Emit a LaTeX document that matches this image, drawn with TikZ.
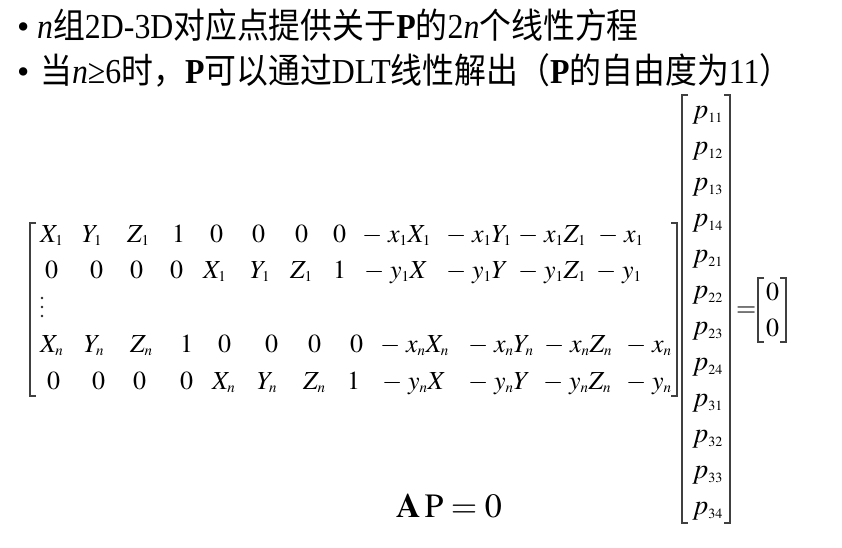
\documentclass[tikz,border=0pt]{standalone}
\usepackage{mathptmx}
\usepackage{fontspec}
\setmainfont{Liberation Serif}
\newfontfamily\cjk{Noto Sans CJK SC}
\DeclareMathSizes{26}{26}{15}{11}
\DeclareMathSizes{28}{28}{14}{10}
\tikzset{
  bigtxt/.style={anchor=base west, inner sep=0pt, font=\fontsize{35}{35}\selectfont},
  ent/.style={anchor=base west, inner sep=0pt, font=\fontsize{26}{26}\selectfont},
  pent/.style={anchor=base west, inner sep=0pt, font=\fontsize{28}{28}\selectfont},
  brk/.style={line width=1.3pt, draw=black!75},
  eqn/.style={anchor=base west, inner sep=0pt, font=\fontsize{34}{34}\selectfont}
}
\begin{document}
\begin{tikzpicture}[x=1pt,y=-1pt]
\useasboundingbox (0,0) rectangle (842,547);
\fill[white] (0,0) rectangle (842,547);
% bullets and text
\node[bigtxt] (b1) at (17,38) {\textbullet};
\node[bigtxt] (t1) at (37,38) {\scalebox{0.91}[1]{\textit{n}{\cjk 组}2D-3D{\cjk 对应点提供关于}\textbf{P}{\cjk 的}2\textit{n}{\cjk 个线性方程}}};
\node[bigtxt] (b2) at (17,83) {\textbullet};
\node[bigtxt] (t2) at (40,83) {\scalebox{0.91}[1]{{\cjk 当}\textit{n}≥6{\cjk 时，}\textbf{P}{\cjk 可以通过}DLT{\cjk 线性解出（}\textbf{P}{\cjk 的自由度为}11{\cjk ）}}};
% matrix rows
\foreach \x/\t [count=\i] in {40/X_1, 82/Y_1, 127/Z_1, 172/1, 210/0, 252/0, 295/0, 333/0, 362/-\;x_1X_1, 446/-\;x_1Y_1, 518/-\;x_1Z_1, 598/-\;x_1}
  \node[ent] (ra\i) at (\x,242) {$\t$};
\foreach \x/\t [count=\i] in {45/0, 90/0, 130/0, 170/0, 203/X_1, 250/Y_1, 290/Z_1, 333/1, 364/-\;y_1X, 446/-\;y_1Y, 518/-\;y_1Z_1, 596/-\;y_1}
  \node[ent] (rb\i) at (\x,278) {$\t$};
\foreach \y in {298,307,316} \fill[black!85] (42,\y) circle (1.4);
\foreach \x/\t [count=\i] in {40/X_n, 84/Y_n, 130/Z_n, 180/1, 218/0, 265/0, 308/0, 350/0, 380/-\;x_nX_n, 468/-\;x_nY_n, 544/-\;x_nZ_n, 626/-\;x_n}
  \node[ent] (rc\i) at (\x,352) {$\t$};
\foreach \x/\t [count=\i] in {47/0, 92/0, 133/0, 180/0, 212/X_n, 257/Y_n, 303/Z_n, 347/1, 382/-\;y_nX, 468/-\;y_nY, 543/-\;y_nZ_n, 626/-\;y_n}
  \node[ent] (rd\i) at (\x,389) {$\t$};
% matrix brackets
\draw[brk] (36,223) -- (30,223) -- (30,396) -- (36,396);
\draw[brk] (671,223) -- (677,223) -- (677,396) -- (671,396);
% column vector
\foreach \t [count=\i from 0] in {11,12,13,14,21,22,23,24,31,32,33,34}
  \node[pent] (p\t) at (692,{118+36*\i}) {$p_{\t}$};
\draw[brk] (688,95) -- (682,95) -- (682,523) -- (688,523);
\draw[brk] (724,95) -- (730,95) -- (730,523) -- (724,523);
% = [0;0]
\node[ent] (eq) at (736,316) {$=$};
\node[ent] (z1) at (766,300) {$0$};
\node[ent] (z2) at (766,336) {$0$};
\draw[brk] (764,278) -- (758,278) -- (758,342) -- (764,342);
\draw[brk] (780,278) -- (786,278) -- (786,342) -- (780,342);
% A P = 0
\node[eqn] (ap) at (396,517) {$\mathbf{A}\,\mathrm{P}=0$};
\end{tikzpicture}
\end{document}
